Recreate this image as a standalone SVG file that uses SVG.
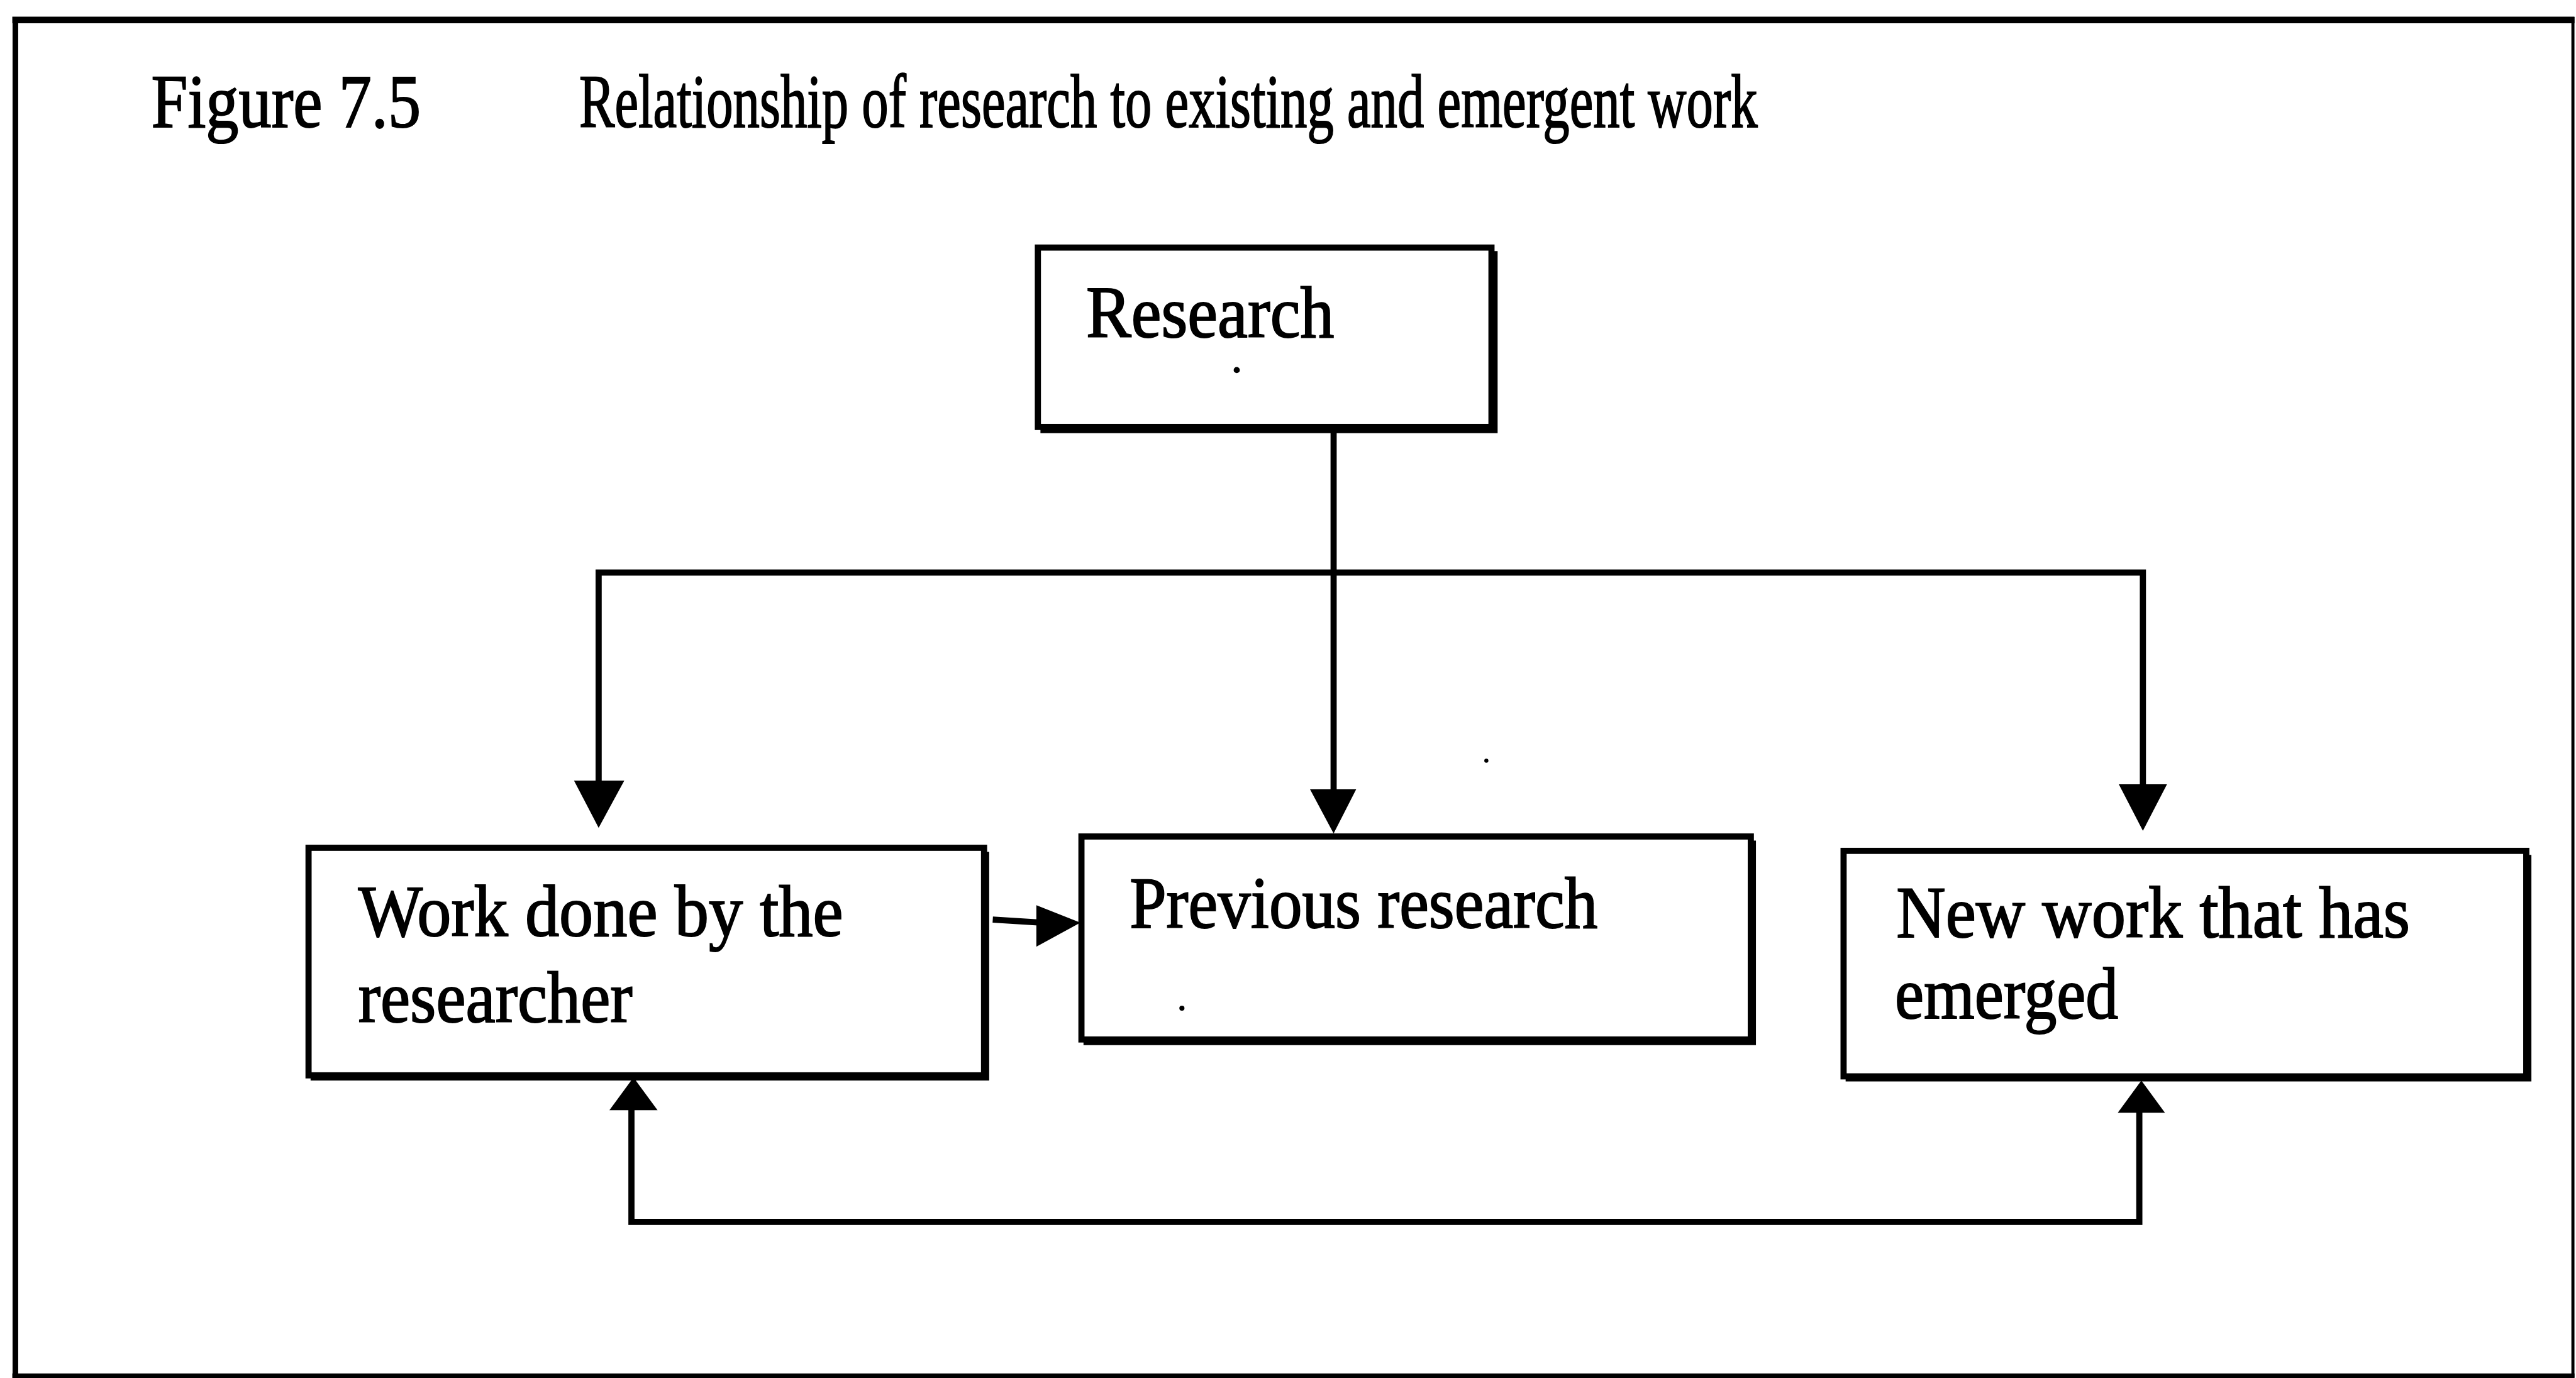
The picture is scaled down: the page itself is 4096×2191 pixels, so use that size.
<svg xmlns="http://www.w3.org/2000/svg" width="4096" height="2191" viewBox="0 0 4096 2191">
  <defs>
    <style>
      .lbl { font-family: "Liberation Serif", "Times New Roman", serif; font-size: 142px; fill: #000; stroke: #000; stroke-width: 2.5; }
      .ttl { font-family: "Liberation Serif", "Times New Roman", serif; font-size: 148px; fill: #000; stroke: #000; stroke-width: 2.5; }
      .box { fill: #fff; stroke: #000; stroke-width: 12; }
      .shade { fill: none; stroke: #000; stroke-width: 10; stroke-linejoin: miter; }
      .wire { fill: none; stroke: #000; stroke-width: 12; stroke-linejoin: miter; }
      .head { fill: #000; stroke: none; }
      .frame { stroke: #000; fill: none; }
    </style>
  </defs>
  <rect x="0" y="0" width="4096" height="2191" fill="#fff"/>
  <g transform="scale(0.81496)">
    <!-- outer frame -->
    <g id="frame">
      <line class="frame" x1="24" y1="39" x2="5023" y2="39" stroke-width="13"/>
      <line class="frame" x1="30" y1="33" x2="30" y2="2688" stroke-width="11"/>
      <line class="frame" x1="5020" y1="33" x2="5020" y2="2688" stroke-width="6"/>
      <line class="frame" x1="24" y1="2684" x2="5023" y2="2684" stroke-width="9"/>
    </g>

    <!-- caption -->
    <g id="caption">
      <text class="ttl" x="295" y="248" textLength="526" lengthAdjust="spacingAndGlyphs">Figure 7.5</text>
      <text class="ttl" x="1130" y="248" textLength="2299" lengthAdjust="spacingAndGlyphs">Relationship of research to existing and emergent work</text>
    </g>

    <!-- connectors -->
    <g id="connectors">
      <!-- Research down to Previous research -->
      <line class="wire" x1="2602" y1="835" x2="2602" y2="1548"/>
      <polygon class="head" points="2556,1540 2646,1540 2602,1626"/>
      <!-- branch bar feeding the outer boxes -->
      <polyline class="wire" points="1168,1530 1168,1117 4181,1117 4181,1536"/>
      <polygon class="head" points="1120,1523 1218,1523 1168,1615"/>
      <polygon class="head" points="4134,1530 4228,1530 4181,1621"/>
      <!-- Work done to Previous research -->
      <line class="wire" x1="1937" y1="1794" x2="2030" y2="1800" stroke-width="11"/>
      <polygon class="head" points="2022,1766 2022,1847 2108,1800"/>
      <!-- loop between Work done and New work -->
      <polyline class="wire" points="1232,2160 1232,2384 4174,2384 4174,2164"/>
      <polygon class="head" points="1189,2166 1283,2166 1236,2102"/>
      <polygon class="head" points="4132,2171 4224,2171 4178,2108"/>
    </g>

    <g id="research">
      <rect class="box" x="2025" y="483" width="885" height="350"/>
      <polyline class="shade" points="2030,840 2917,840 2917,490"/>
      <text class="lbl" x="2119" y="658" textLength="484" lengthAdjust="spacingAndGlyphs">Research</text>
      <circle cx="2413" cy="722" r="6" fill="#000"/>
    </g>

    <g id="work-done">
      <rect class="box" x="602" y="1654" width="1318" height="444"/>
      <polyline class="shade" points="606,2103 1925,2103 1925,1662"/>
      <text class="lbl" x="699" y="1826" textLength="946" lengthAdjust="spacingAndGlyphs">Work done by the</text>
      <text class="lbl" x="699" y="1994" textLength="535" lengthAdjust="spacingAndGlyphs">researcher</text>
    </g>

    <g id="previous-research">
      <rect class="box" x="2110" y="1632" width="1306" height="396"/>
      <polyline class="shade" points="2114,2034 3421,2034 3421,1640"/>
      <text class="lbl" x="2204" y="1810" textLength="913" lengthAdjust="spacingAndGlyphs">Previous research</text>
      <circle cx="2306" cy="1967" r="5" fill="#000"/>
    </g>

    <g id="new-work">
      <rect class="box" x="3597" y="1660" width="1332" height="440"/>
      <polyline class="shade" points="3601,2105 4934,2105 4934,1668"/>
      <text class="lbl" x="3700" y="1828" textLength="1002" lengthAdjust="spacingAndGlyphs">New work that has</text>
      <text class="lbl" x="3697" y="1986" textLength="436" lengthAdjust="spacingAndGlyphs">emerged</text>
    </g>

    <!-- stray speck -->
    <circle cx="2900" cy="1484" r="4" fill="#000"/>
  </g>
</svg>
